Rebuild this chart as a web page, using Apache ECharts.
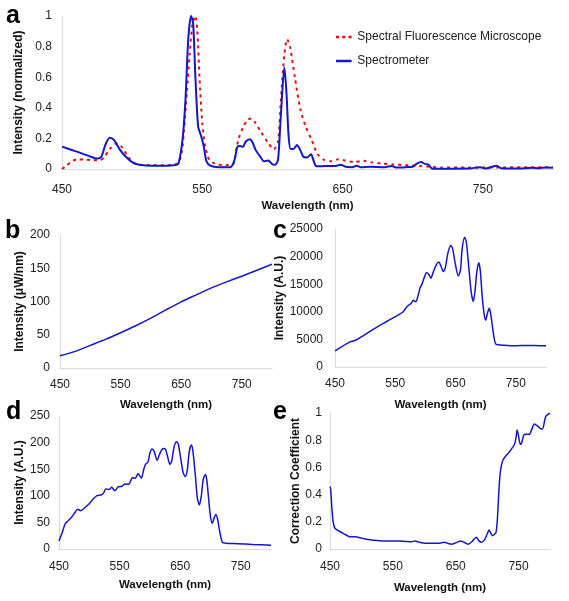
<!DOCTYPE html>
<html>
<head>
<meta charset="utf-8">
<script src="https://cdn.jsdelivr.net/npm/echarts@6/dist/echarts.min.js"></script>
<style>
html,body{margin:0;padding:0;background:#fff;}
#chart{width:569px;height:601px;}
</style>
</head>
<body>
<div id="chart"></div>
<script>
// ---------- Data ----------
var xTickLabels = [450, 550, 650, 750];

// Panel a: Spectrometer (blue)
var aWlBlue = [450,460,470,475,478,481,484,487,491,495,500,505,515,525,530,533,536,538,540,542,543.5,545,547,549,551,553,556,562,570,573,575,577,579,581,584,586,588,591,594,597,600,602,604,606,608.5,610,611.5,613,615,617.5,620,622,624.5,627.5,629.5,631,635,640,645,649,652,657,660,663,670,680,685,688,695,700,703,706,709,711,714,720,740,748,752,760,763,775,785,790,795,800];
var aBlue   = [0.146,0.115,0.082,0.068,0.08,0.16,0.205,0.19,0.13,0.085,0.045,0.028,0.022,0.022,0.025,0.035,0.2,0.45,0.85,1.0,0.95,0.62,0.28,0.22,0.15,0.05,0.02,0.012,0.012,0.06,0.145,0.15,0.145,0.18,0.195,0.17,0.125,0.085,0.05,0.055,0.03,0.028,0.06,0.35,0.665,0.5,0.22,0.13,0.13,0.157,0.12,0.08,0.075,0.096,0.05,0.02,0.018,0.02,0.02,0.028,0.015,0.012,0.022,0.012,0.015,0.012,0.02,0.01,0.012,0.015,0.035,0.045,0.032,0.03,0.002,0.002,0.003,0.012,0.003,0.022,0.005,0.003,0.008,0.005,0.01,0.008];

// Panel a: Spectral Fluorescence Microscope (red dotted)
var aWlRed = [450,453,457,461,466,472,477,480,484,489,493,497,501,506,515,525,531,534,536,539,541,543,545,546.5,548,550,552,555,559,565,572,574,576,579,582,585,588,592,597,601,604,606,608.5,610.5,612.5,616,620,624,628,632,637,642,647,652,658,665,670,678,686,695,705,712,720,740,760,780,800];
var aRed   = [0.0,0.02,0.05,0.063,0.062,0.058,0.058,0.075,0.13,0.168,0.14,0.08,0.04,0.028,0.025,0.025,0.03,0.06,0.15,0.5,0.75,0.95,1.0,0.9,0.6,0.3,0.15,0.06,0.035,0.025,0.03,0.12,0.2,0.27,0.32,0.33,0.3,0.24,0.17,0.128,0.18,0.45,0.75,0.848,0.8,0.6,0.386,0.27,0.19,0.1,0.059,0.05,0.063,0.055,0.045,0.054,0.045,0.035,0.03,0.025,0.02,0.015,0.01,0.01,0.01,0.012,0.012];

// Panel b: lamp intensity (uW/nm)
var bWl  = [450,475,500,525,550,575,600,625,650,675,700,725,750,775,800];
var bVal = [18.5,25,34,43,53,63.5,75,87.5,99.5,110,120.5,129.5,138,147,156];

// Panel c: intensity (A.U.)
var cWl  = [450,460,475,485,497,510,525,535,547,556,563,570,576,580,584,588,591,595,598,602,606,609,613,618,622.5,626,629.6,633,637,641.9,645,649,654.5,658,661,665,668,672,676,679.4,682,685,688.3,691,694,697.5,700,703,705.9,708,711,714,716.5,720,730,750,770,790,800];
var cVal = [2900,3600,4550,4900,5700,6600,7600,8200,8950,9500,10000,11000,11500,12100,11800,13000,14300,15200,16200,17100,16700,16100,17200,18500,19000,18200,17300,18000,20500,22000,21500,19000,16500,17500,21500,23500,22500,18000,13500,11900,13500,17000,18900,17500,13000,9500,8500,9800,10630,9800,7500,5200,4200,4050,3950,3850,3900,3850,3850];

// Panel d: intensity (A.U.)
var dWl  = [450,455,460,463,466,471,476,480.8,486,492,498,505,512,520,524,527,533,537,542,545,548,554,558.7,565,568,571,576,580.6,583,586,590,592.8,597,600,603.8,607,612,616,620,623,626,629,633,636,640,643.9,647,651,655,658.7,662,665,668.6,671,675,678.5,681.8,685,688,691.7,694,697,700,703.2,706,709,712,715,719.7,725,745,770,800];
var dVal = [15,30,47,51,54,60,68,74.6,72,77,83,92,100,102,106,113,112,116,109.6,113,117,118,122,121.5,127,134,133,142,138,133,150,159,164,180,188,184,166.7,178,187,189,187,175,159,165,192,201.7,197,170,143,136,150,183,195.5,185,140,95,82.7,100,130,140,130,95,62,48.3,58,65,55,35,12.5,11,10,8.5,7];

// Panel e: correction coefficient
var eWl  = [450,451,453,455,457.5,461,468,475,481.7,490,500,508,516,526,537,548,560,570,580,585,592,600.8,610,622,632,637,643,650,658,664,670,676,682.8,687,691,696,700,703,706,708.7,711,714,716,717.5,719,721,725,730,735.7,743.6,746,747.8,750,752,754,758.3,762,767,771,775,780,785,788,793,797,800];
var eVal = [0.46,0.44,0.3,0.2,0.155,0.14,0.123,0.105,0.09,0.09,0.08,0.071,0.066,0.062,0.058,0.059,0.058,0.056,0.054,0.058,0.05,0.042,0.043,0.042,0.05,0.042,0.035,0.045,0.059,0.048,0.035,0.055,0.086,0.06,0.05,0.069,0.11,0.14,0.115,0.098,0.105,0.12,0.2,0.32,0.45,0.568,0.654,0.685,0.716,0.77,0.82,0.875,0.83,0.78,0.77,0.838,0.843,0.843,0.88,0.919,0.905,0.885,0.882,0.973,0.99,0.998];

// ---------- Helpers ----------
function zip(xs, ys) { return xs.map(function (x, i) { return [x, ys[i]]; }); }
var FONT = '"Liberation Sans", Arial, sans-serif';
var BLUE = '#1515cc';
var RED = '#e01010';
var AXIS_COLOR = '#d9d9d9';

function makeX(idx, labelMargin, nameGap) {
  return {
    type: 'value', gridIndex: idx, min: 450, max: 800, interval: 50,
    name: 'Wavelength (nm)', nameLocation: 'middle', nameGap: nameGap,
    nameTextStyle: { fontFamily: FONT, fontWeight: 'bold', fontSize: 11.5, color: '#111' },
    axisLine: { show: true, lineStyle: { color: AXIS_COLOR, width: 1 } },
    axisTick: { show: false },
    splitLine: { show: false },
    axisLabel: {
      margin: labelMargin, fontFamily: FONT, fontSize: 12, color: '#222',
      formatter: function (v) { return xTickLabels.indexOf(v) >= 0 ? String(v) : ''; }
    }
  };
}
function makeY(idx, max, interval, name, nameGap, labelMargin) {
  return {
    type: 'value', gridIndex: idx, min: 0, max: max, interval: interval,
    name: name, nameLocation: 'middle', nameGap: nameGap, nameRotate: 90,
    nameTextStyle: { fontFamily: FONT, fontWeight: 'bold', fontSize: 12, color: '#111' },
    axisLine: { show: true, lineStyle: { color: AXIS_COLOR, width: 1 } },
    axisTick: { show: false },
    splitLine: { show: false },
    axisLabel: { margin: labelMargin, fontFamily: FONT, fontSize: 12, color: '#222',
      formatter: function (v) { return String(v); } }
  };
}
function line(idx, name, data, color, width, type) {
  return {
    type: 'line', name: name, xAxisIndex: idx, yAxisIndex: idx,
    data: data, showSymbol: false, symbol: 'none', smooth: 0.25,
    lineStyle: { color: color, width: width, type: type || 'solid' },
    itemStyle: { color: color },
    animation: false, silent: true
  };
}
function letter(ch, x, y) {
  return { type: 'text', left: x, top: y,
    style: { text: ch, fontFamily: FONT, fontWeight: 'bold', fontSize: 25, fill: '#000' } };
}

var chart = echarts.init(document.getElementById('chart'), null, { renderer: 'canvas' });
chart.setOption({
  backgroundColor: '#fff',
  animation: false,
  grid: [
    { left: 62, top: 16, width: 491, height: 153 },
    { left: 60, top: 235, width: 212, height: 133 },
    { left: 335, top: 229, width: 211, height: 138 },
    { left: 59, top: 416, width: 212, height: 133 },
    { left: 330, top: 413, width: 220, height: 136 }
  ],
  xAxis: [
    makeX(0, 15, 31),
    makeX(1, 11, 31),
    makeX(2, 11, 32),
    makeX(3, 12, 30),
    makeX(4, 12, 33)
  ],
  yAxis: [
    makeY(0, 1, 0.2, 'Intensity (normalized)', 29, 10),
    makeY(1, 200, 50, 'Intensity (\u03bcW/nm)', 28, 10),
    makeY(2, 25000, 5000, 'Intensity (A.U.)', 45, 12),
    makeY(3, 250, 50, 'Intensity (A.U.)', 29, 9),
    makeY(4, 1, 0.2, 'Correction Coefficient', 27, 8)
  ],
  legend: {
    orient: 'vertical', left: 331, top: 26, itemWidth: 17, itemHeight: 2.5, itemGap: 12,
    textStyle: { fontFamily: FONT, fontSize: 12, color: '#222' },
    data: [
      { name: 'Spectral Fluorescence Microscope', icon: 'path://M0,0h3v2.4h-3zM6,0h3v2.4h-3zM12,0h3v2.4h-3z' },
      { name: 'Spectrometer', icon: 'path://M0,0h15v2.4h-15z' }
    ]
  },
  graphic: [
    letter('a', 6, 4),
    letter('b', 5, 219),
    letter('c', 273, 219),
    letter('d', 6, 400),
    letter('e', 273, 400)
  ],
  series: [
    line(0, 'Spectral Fluorescence Microscope', zip(aWlRed, aRed), RED, 2, [3, 4]),
    line(0, 'Spectrometer', zip(aWlBlue, aBlue), BLUE, 2),
    line(1, 'b', zip(bWl, bVal), BLUE, 1.5),
    line(2, 'c', zip(cWl, cVal), BLUE, 1.5),
    line(3, 'd', zip(dWl, dVal), BLUE, 1.5),
    line(4, 'e', zip(eWl, eVal), BLUE, 1.5)
  ]
});
</script>
</body>
</html>
